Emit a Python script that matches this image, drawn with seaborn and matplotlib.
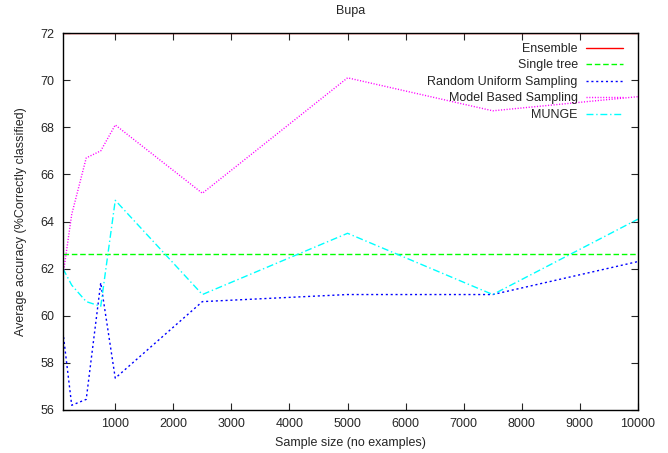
import numpy as np
import pandas as pd
import matplotlib
matplotlib.use("Agg")
import matplotlib.pyplot as plt
import seaborn as sns

sample_sizes = [100, 250, 500, 750, 1000, 2500, 5000, 7500, 10000]
ensemble = [72.0, 72.0, 72.0, 72.0, 72.0, 72.0, 72.0, 72.0, 72.0]
single_tree = [62.6, 62.6, 62.6, 62.6, 62.6, 62.6, 62.6, 62.6, 62.6]
random_uniform = [59.3, 56.2, 56.45, 61.4, 57.35, 60.6, 60.9, 60.9, 62.3]
model_based = [61.7, 64.3, 66.7, 67.0, 68.1, 65.2, 70.1, 68.7, 69.3]
munge = [62.0, 61.3, 60.6, 60.4, 64.9, 60.9, 63.5, 60.9, 64.1]

series_names = ["Ensemble", "Single tree", "Random Uniform Sampling",
                "Model Based Sampling", "MUNGE"]
series_values = [ensemble, single_tree, random_uniform, model_based, munge]
colors = ["#ff0000", "#00ff00", "#0000ff", "#ff00ff", "#00ffff"]
dashes = [(None, None), (4, 2), (1.5, 2), (0.8, 1.2), (5, 2, 1, 2)]

sns.set_style("ticks")
plt.rcParams['font.family'] = ['Liberation Sans', 'DejaVu Sans']

fig = plt.figure(figsize=(6.68, 4.53), dpi=100)
ax = fig.add_axes([0.0943, 0.095, 0.8607, 0.832])

for name, vals, c, d in zip(series_names, series_values, colors, dashes):
    df = pd.DataFrame({"x": sample_sizes, "y": vals})
    sns.lineplot(data=df, x="x", y="y", ax=ax, color=c, lw=1.0, label=name)
    l = ax.get_lines()[-1]
    if d[0] is not None:
        l.set_dashes(d)

ax.set_xlim(100, 10000)
ax.set_ylim(56, 72)
ax.set_xticks(np.arange(1000, 10001, 1000))
ax.set_yticks(np.arange(56, 73, 2))
ax.tick_params(direction="in", top=True, right=True, labelsize=9, length=5, width=0.8, pad=6)
for s in ax.spines.values():
    s.set_linewidth(1.0)
    s.set_color("black")
ax.set_xlabel("Sample size (no examples)", fontsize=9, labelpad=5)
ax.set_ylabel("Average accuracy (%Correctly classified)", fontsize=9, labelpad=10)
ax.set_title("Bupa", fontsize=9, pad=14)

leg = ax.legend(loc="upper right", frameon=False, markerfirst=False, fontsize=9,
                handlelength=3.0, handletextpad=0.65, labelspacing=0.36,
                borderaxespad=0.3, bbox_to_anchor=(0.99, 0.997))
for t in leg.get_texts():
    t.set_ha("right")

fig.savefig("out.png", dpi=100)
